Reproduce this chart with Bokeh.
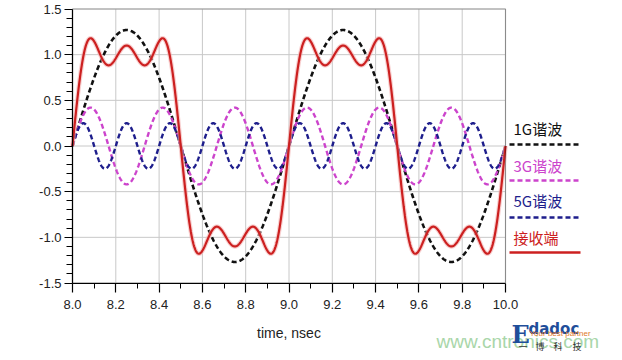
import numpy as np
from bokeh.plotting import figure
from bokeh.models import Range1d, PrintfTickFormatter, FixedTicker, ColumnDataSource, BoxAnnotation
from bokeh.core.properties import value
from bokeh.embed import file_html
from bokeh.resources import INLINE

# ---- data ----
harmonic_names = ["1G谐波", "3G谐波", "5G谐波"]
harmonic_freq_ghz = [1.0, 3.0, 5.0]
harmonic_amp = [1.27, 0.42, 0.25]
received_name = "接收端"
x_ticks = [8.0, 8.2, 8.4, 8.6, 8.8, 9.0, 9.2, 9.4, 9.6, 9.8, 10.0]
x_minor = [8.1, 8.3, 8.5, 8.7, 8.9, 9.1, 9.3, 9.5, 9.7, 9.9]
y_ticks = [-1.5, -1.0, -0.5, 0.0, 0.5, 1.0, 1.5]
y_minor = [-1.4, -1.3, -1.2, -1.1, -0.9, -0.8, -0.7, -0.6, -0.4, -0.3, -0.2, -0.1,
           0.1, 0.2, 0.3, 0.4, 0.6, 0.7, 0.8, 0.9, 1.1, 1.2, 1.3, 1.4]
x_label = "time, nsec"
x_min, x_max = x_ticks[0], x_ticks[-1]
y_min, y_max = y_ticks[0], y_ticks[-1]

# ---- layout (pixels) ----
W, H = 614, 352
LEFT, TOP, RIGHT_PX, BOTTOM_PX = 72, 8.5, 505, 282.5   # plot box edges on the canvas
sx = (RIGHT_PX - LEFT) / (x_max - x_min)
sy = (BOTTOM_PX - TOP) / (y_max - y_min)
def X(px):
    return x_min + (px - LEFT) / sx
def Y(py):
    return y_max - (py - TOP) / sy

harm_colors = ["#111111", "#cc44cc", "#1e1e8c"]
red = "#cc2020"
font = "Liberation Sans"
cjk = "Noto Sans CJK SC"

t = np.linspace(x_min, x_max, 1201)
curves = [a * np.sin(2 * np.pi * f * (t - x_min)) for f, a in zip(harmonic_freq_ghz, harmonic_amp)]
received = np.sum(curves, axis=0)

p = figure(width=W, height=H, x_range=Range1d(X(0), X(W)), y_range=Range1d(Y(H), Y(0)),
           output_backend="svg", toolbar_location=None,
           min_border_left=0, min_border_right=0, min_border_top=0, min_border_bottom=0)
p.outline_line_color = None
p.background_fill_color = "white"
p.border_fill_color = "white"
p.grid.visible = False

p.xaxis.fixed_location = y_min
p.yaxis.fixed_location = x_min
p.xaxis.bounds = (x_min, x_max)
p.yaxis.bounds = (y_min, y_max)
p.xaxis.ticker = FixedTicker(ticks=x_ticks, minor_ticks=x_minor)
p.yaxis.ticker = FixedTicker(ticks=y_ticks, minor_ticks=y_minor)
p.xaxis.formatter = PrintfTickFormatter(format="%.1f")
p.yaxis.formatter = PrintfTickFormatter(format="%.1f")
for ax in (p.xaxis, p.yaxis):
    ax.axis_line_color = "black"
    ax.axis_line_width = 1.2
    ax.major_tick_line_color = "black"
    ax.minor_tick_line_color = "black"
    ax.major_tick_line_width = 1.2
    ax.minor_tick_line_width = 1
    ax.major_tick_in = 0
    ax.minor_tick_in = 0
    ax.major_label_text_font = font
    ax.major_label_text_font_size = "13px"
    ax.major_label_text_color = "#222222"
p.xaxis.major_tick_out = 9
p.xaxis.minor_tick_out = 5
p.yaxis.major_tick_out = 8
p.yaxis.minor_tick_out = 6
p.xaxis.major_label_standoff = 8
p.yaxis.major_label_standoff = 3
p.xaxis.axis_label = x_label
p.xaxis.axis_label_text_font = font
p.xaxis.axis_label_text_font_style = "normal"
p.xaxis.axis_label_text_font_size = "14px"
p.xaxis.axis_label_text_color = "#222222"
p.xaxis.axis_label_standoff = 12

# grid lines inside the plot box
p.segment(x0=x_ticks, y0=[y_min] * len(x_ticks), x1=x_ticks, y1=[y_max] * len(x_ticks),
          line_color="#c8c8c8", line_width=1)
p.segment(x0=[x_min] * len(y_ticks), y0=y_ticks, x1=[x_max] * len(y_ticks), y1=y_ticks,
          line_color="#c8c8c8", line_width=1)

src = ColumnDataSource(dict(t=t, h1=curves[0], h3=curves[1], h5=curves[2], rx=received))
p.line("t", "h1", source=src, color=harm_colors[0], line_width=2.6, line_dash="5 3")
p.line("t", "h3", source=src, color=harm_colors[1], line_width=2.4, line_dash="5 3")
p.line("t", "h5", source=src, color=harm_colors[2], line_width=2.4, line_dash="5 3")
p.line("t", "rx", source=src, color="#f3b0b0", line_width=4.5, alpha=0.6)
p.line("t", "rx", source=src, color=red, line_width=2.2)

# plot box
p.add_layout(BoxAnnotation(left=x_min, right=x_max, bottom=y_min, top=y_max,
                           fill_color=None, line_color="black", line_width=1.2))

# ---- legend on the right ----
names = harmonic_names + [received_name]
cols = harm_colors + [red]
dashes = ["5 3", "5 3", "5 3", "solid"]
text_py = [128, 165, 200, 237]
line_py = [144, 180, 217, 252]
p.text(x=[X(513)] * 4, y=[Y(v) for v in text_py], text=names, text_color=cols,
       text_font=value(cjk), text_font_size="15px", text_baseline="middle", text_align="left")
for c, d, ly in zip(cols, dashes, line_py):
    p.line(x=[X(509), X(580)], y=[Y(ly), Y(ly)], line_color=c, line_width=2.4, line_dash=d)

# ---- logo / watermark ----
p.text(x=[X(436)], y=[Y(341)], text=["www.cntronics.com"], text_color="#a9d6a9",
       text_font=value(font), text_font_size="19px", text_baseline="middle")
p.text(x=[X(511)], y=[Y(334)], text=["E"], text_color="#1f4e9a", text_font=value("DejaVu Serif"),
       text_font_style="bold", text_font_size="24px", text_baseline="alphabetic")
p.text(x=[X(528)], y=[Y(328)], text=["dadoc"], text_color="#1f4e9a", text_font=value("DejaVu Sans"),
       text_font_style="bold", text_font_size="15px", text_baseline="alphabetic")
p.text(x=[X(529)], y=[Y(333)], text=["Your best partner"], text_color="#e07a2a",
       text_font=value(font), text_font_size="8px", text_baseline="middle")
p.text(x=[X(518), X(535), X(553), X(572)], y=[Y(346)] * 4, text=["一", "博", "科", "技"],
       text_color="#333333", text_font=value(cjk), text_font_size="9px", text_baseline="middle")

open("out.html", "w").write(file_html(p, INLINE))
